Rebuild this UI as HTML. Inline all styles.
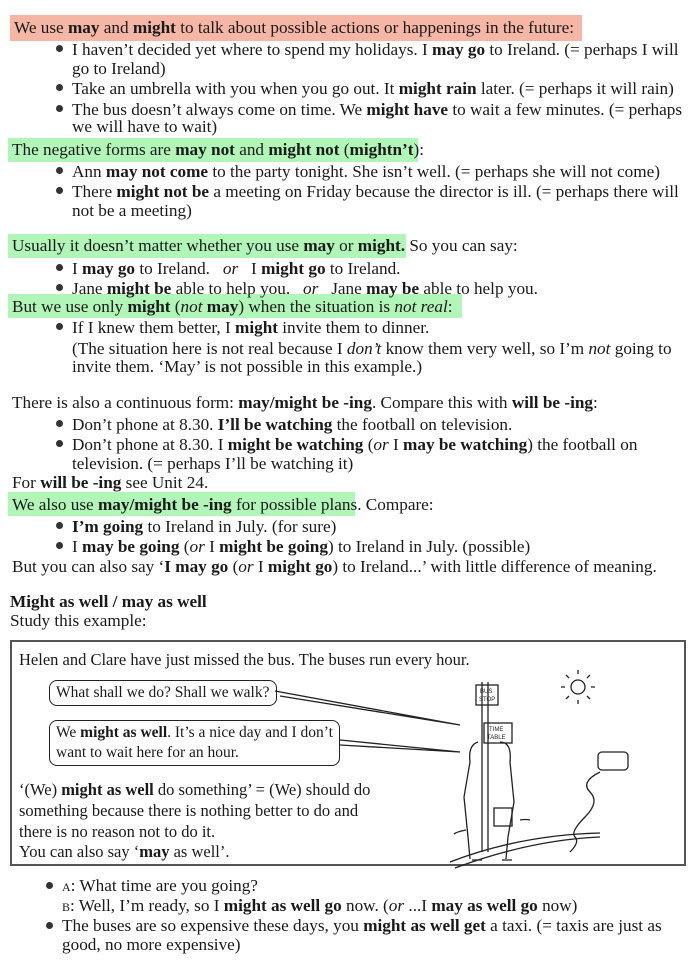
<!DOCTYPE html>
<html><head><meta charset="utf-8"><style>
body{margin:0;width:700px;height:963px;background:#fff;position:relative;overflow:hidden;font-family:"Liberation Serif",serif;font-size:17.2px;color:#1a1a1a}
.l{position:absolute;white-space:nowrap;line-height:20px}
.bx{font-size:16.5px}
.hl{position:absolute}
.d{position:absolute;width:7px;height:7px;border-radius:50%;background:#333}
b{font-weight:bold}
.bub{position:absolute;border:1.3px solid #222;border-radius:8px;background:#fff;padding:2px 6px;line-height:20px;font-size:15.5px;white-space:nowrap}
</style></head><body>
<div class="hl" style="left:10px;top:15px;width:572px;height:26px;background:#f5b6a6"></div>
<div class="hl" style="left:8px;top:138px;width:410px;height:24px;background:#b2f5b9"></div>
<div class="hl" style="left:8px;top:234px;width:398px;height:24px;background:#b2f5b9"></div>
<div class="hl" style="left:8px;top:294px;width:454px;height:24px;background:#b2f5b9"></div>
<div class="hl" style="left:8px;top:492px;width:347px;height:24px;background:#b2f5b9"></div>

<div class="l" style="left:14px;top:18px">We use <b>may</b> and <b>might</b> to talk about possible actions or happenings in the future:</div>
<div class="d" style="left:56px;top:45px"></div>
<div class="l" style="left:72px;top:40px">I haven’t decided yet where to spend my holidays. I <b>may go</b> to Ireland. (= perhaps I will</div>
<div class="l" style="left:72px;top:59px">go to Ireland)</div>
<div class="d" style="left:56px;top:84px"></div>
<div class="l" style="left:72px;top:79px">Take an umbrella with you when you go out. It <b>might rain</b> later. (= perhaps it will rain)</div>
<div class="d" style="left:56px;top:105px"></div>
<div class="l" style="left:72px;top:100px">The bus doesn’t always come on time. We <b>might have</b> to wait a few minutes. (= perhaps</div>
<div class="l" style="left:72px;top:117px">we will have to wait)</div>

<div class="l" style="left:12px;top:140px">The negative forms are <b>may not</b> and <b>might not</b> (<b>mightn’t</b>):</div>
<div class="d" style="left:56px;top:167px"></div>
<div class="l" style="left:72px;top:162px">Ann <b>may not come</b> to the party tonight. She isn’t well. (= perhaps she will not come)</div>
<div class="d" style="left:56px;top:187px"></div>
<div class="l" style="left:72px;top:182px">There <b>might not be</b> a meeting on Friday because the director is ill. (= perhaps there will</div>
<div class="l" style="left:72px;top:201px">not be a meeting)</div>

<div class="l" style="left:12px;top:236px">Usually it doesn’t matter whether you use <b>may</b> or <b>might.</b> So you can say:</div>
<div class="d" style="left:56px;top:264px"></div>
<div class="l" style="left:72px;top:259px">I <b>may go</b> to Ireland. &nbsp; <i>or</i> &nbsp; I <b>might go</b> to Ireland.</div>
<div class="d" style="left:56px;top:284px"></div>
<div class="l" style="left:72px;top:279px">Jane <b>might be</b> able to help you. &nbsp; <i>or</i> &nbsp; Jane <b>may be</b> able to help you.</div>
<div class="l" style="left:12px;top:297px">But we use only <b>might</b> (<i>not</i> <b>may</b>) when the situation is <i>not real</i>:</div>
<div class="d" style="left:56px;top:323px"></div>
<div class="l" style="left:72px;top:318px">If I knew them better, I <b>might</b> invite them to dinner.</div>
<div class="l" style="left:72px;top:339px">(The situation here is not real because I <i>don’t</i> know them very well, so I’m <i>not</i> going to</div>
<div class="l" style="left:72px;top:357px">invite them. ‘May’ is not possible in this example.)</div>

<div class="l" style="left:12px;top:393px">There is also a continuous form: <b>may/might be -ing</b>. Compare this with <b>will be -ing</b>:</div>
<div class="d" style="left:56px;top:420px"></div>
<div class="l" style="left:72px;top:415px">Don’t phone at 8.30. <b>I’ll be watching</b> the football on television.</div>
<div class="d" style="left:56px;top:440px"></div>
<div class="l" style="left:72px;top:435px">Don’t phone at 8.30. I <b>might be watching</b> (<i>or</i> I <b>may be watching</b>) the football on</div>
<div class="l" style="left:72px;top:454px">television. (= perhaps I’ll be watching it)</div>
<div class="l" style="left:12px;top:473px">For <b>will be -ing</b> see Unit 24.</div>
<div class="l" style="left:12px;top:495px">We also use <b>may/might be -ing</b> for possible plans. Compare:</div>
<div class="d" style="left:56px;top:522px"></div>
<div class="l" style="left:72px;top:517px"><b>I’m going</b> to Ireland in July. (for sure)</div>
<div class="d" style="left:56px;top:542px"></div>
<div class="l" style="left:72px;top:537px">I <b>may be going</b> (<i>or</i> I <b>might be going</b>) to Ireland in July. (possible)</div>
<div class="l" style="left:12px;top:557px">But you can also say ‘<b>I may go</b> (<i>or</i> I <b>might go</b>) to Ireland...’ with little difference of meaning.</div>

<div class="l" style="left:10px;top:592px"><b>Might as well / may as well</b></div>
<div class="l" style="left:10px;top:611px">Study this example:</div>

<div style="position:absolute;left:10px;top:640px;width:676px;height:226px;border:2px solid #555;box-sizing:border-box"></div>
<div class="l bx" style="left:19px;top:650px">Helen and Clare have just missed the bus. The buses run every hour.</div>
<div class="bub" style="left:49px;top:680px">What shall we do? Shall we walk?</div>
<div class="bub" style="left:49px;top:720px">We <b>might as well</b>. It’s a nice day and I don’t<br>want to wait here for an hour.</div>
<svg style="position:absolute;left:0;top:630px" width="700" height="240">
<g fill="none" stroke="#222" stroke-width="1.3">
<path d="M275 61 L460 95 M280 66 L460 95"/>
<path d="M340 110 L460 122 M340 115 L460 122"/>
<path d="M482 52 v170 M488 52 v170"/>
<rect x="476" y="55" width="22" height="20"/>
<rect x="484" y="93" width="28" height="20"/>
<circle cx="578" cy="57" r="7"/>
<path d="M578 40v4 M578 70v4 M561 57h4 M591 57h4 M566 45l3 3 M590 45l-3 3 M566 69l3-3 M590 69l-3-3"/>
<path d="M478 112 q-10 3 -8 20 l-6 35 l4 40 l2 22 M472 230 h10 M500 112 q12 0 10 20 l4 40 -6 35 -2 22 M502 230 h10"/>
<path d="M466 200 q-10 2 -12 4 M520 190 q6 -1 10 0"/>
<rect x="494" y="178" width="18" height="18"/>
<rect x="598" y="122" width="30" height="18" rx="4"/>
<path d="M600 142 q-20 10 -10 20 t-5 25 t-10 20 t-5 15"/>
<path d="M450 232 Q520 205 600 203 M455 238 Q530 210 600 207"/>
</g>
<text x="480" y="63" font-size="6" font-family="Liberation Sans" fill="#222">BUS</text>
<text x="479" y="71" font-size="6" font-family="Liberation Sans" fill="#222">STOP</text>
<text x="489" y="101" font-size="6" font-family="Liberation Sans" fill="#222">TIME</text>
<text x="487" y="109" font-size="6" font-family="Liberation Sans" fill="#222">TABLE</text>
</svg>
<div class="l bx" style="left:19px;top:780px">‘(We) <b>might as well</b> do something’ = (We) should do</div>
<div class="l bx" style="left:19px;top:801px">something because there is nothing better to do and</div>
<div class="l bx" style="left:19px;top:822px">there is no reason not to do it.</div>
<div class="l bx" style="left:19px;top:842px">You can also say ‘<b>may</b> as well’.</div>

<div class="d" style="left:46px;top:882px"></div>
<div class="l" style="left:62px;top:876px"><span style="font-size:12px">A</span>: What time are you going?</div>
<div class="l" style="left:62px;top:896px"><span style="font-size:12px">B</span>: Well, I’m ready, so I <b>might as well go</b> now. (<i>or</i> ...I <b>may as well go</b> now)</div>
<div class="d" style="left:46px;top:922px"></div>
<div class="l" style="left:62px;top:916px">The buses are so expensive these days, you <b>might as well get</b> a taxi. (= taxis are just as</div>
<div class="l" style="left:62px;top:935px">good, no more expensive)</div>
</body></html>
